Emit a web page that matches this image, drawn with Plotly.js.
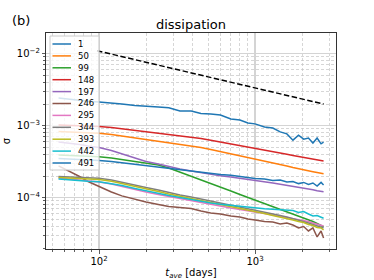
<!DOCTYPE html>
<html>
<head>
<meta charset="utf-8">
<script src="https://cdn.plot.ly/plotly-3.0.1.min.js"></script>
<style>html,body{margin:0;padding:0;background:#fff;}#chart{width:374px;height:280px;}</style>
</head>
<body>
<div id="chart"></div>
<script>
// ---- data ----
const tAve = [55, 65, 75, 85, 100, 120, 140, 170, 200, 240, 280, 330, 390, 450, 520, 600, 700, 800, 900, 1000, 1150, 1300, 1450, 1600, 1750, 1900, 2050, 2200, 2350, 2500, 2650, 2750];
const seriesLabels = ['1', '50', '99', '148', '197', '246', '295', '344', '393', '442', '491'];
const s1   = [2.43e-3, 2.31e-3, 2.24e-3, 2.18e-3, 2.13e-3, 2.07e-3, 2.0e-3, 1.91e-3, 1.85e-3, 1.82e-3, 1.78e-3, 1.60e-3, 1.60e-3, 1.48e-3, 1.45e-3, 1.41e-3, 1.24e-3, 1.2e-3, 1.09e-3, 1.06e-3, 9.6e-4, 9.3e-4, 8.2e-4, 7.7e-4, 6.3e-4, 7.4e-4, 6.5e-4, 6.75e-4, 5.75e-4, 6.75e-4, 5.6e-4, 5.9e-4];
const s50  = [8.31e-4, 8.23e-4, 8.12e-4, 8.02e-4, 7.87e-4, 7.55e-4, 7.19e-4, 6.75e-4, 6.43e-4, 6.13e-4, 5.84e-4, 5.57e-4, 5.31e-4, 4.98e-4, 4.67e-4, 4.38e-4, 4.05e-4, 3.80e-4, 3.62e-4, 3.45e-4, 3.24e-4, 3.03e-4, 2.89e-4, 2.76e-4, 2.63e-4, 2.55e-4, 2.45e-4, 2.37e-4, 2.30e-4, 2.24e-4, 2.18e-4, 2.15e-4];
const s99  = [3.92e-4, 3.88e-4, 3.83e-4, 3.80e-4, 3.71e-4, 3.56e-4, 3.39e-4, 3.18e-4, 3.03e-4, 2.85e-4, 2.59e-4, 2.28e-4, 2.0e-4, 1.76e-4, 1.57e-4, 1.41e-4, 1.24e-4, 1.11e-4, 1.01e-4, 9.29e-5, 8.31e-5, 7.55e-5, 6.97e-5, 6.43e-5, 6.04e-5, 5.66e-5, 5.31e-5, 4.98e-5, 4.67e-5, 4.38e-5, 4.11e-5, 3.95e-5];
const s148 = [1.02e-3, 1.01e-3, 1.0e-3, 9.9e-4, 9.75e-4, 9.44e-4, 9.06e-4, 8.66e-4, 8.36e-4, 7.97e-4, 7.62e-4, 7.31e-4, 6.97e-4, 6.64e-4, 6.27e-4, 5.94e-4, 5.57e-4, 5.31e-4, 5.06e-4, 4.82e-4, 4.57e-4, 4.36e-4, 4.18e-4, 4.01e-4, 3.86e-4, 3.74e-4, 3.62e-4, 3.52e-4, 3.42e-4, 3.34e-4, 3.27e-4, 3.24e-4];
const s197 = [5.94e-4, 5.71e-4, 5.48e-4, 5.23e-4, 4.98e-4, 4.52e-4, 4.05e-4, 3.50e-4, 3.18e-4, 2.94e-4, 2.71e-4, 2.50e-4, 2.35e-4, 2.22e-4, 2.11e-4, 2.01e-4, 1.94e-4, 1.87e-4, 1.80e-4, 1.75e-4, 1.66e-4, 1.60e-4, 1.54e-4, 1.49e-4, 1.44e-4, 1.40e-4, 1.36e-4, 1.32e-4, 1.29e-4, 1.25e-4, 1.23e-4, 1.21e-4];
const s246 = [2.76e-4, 2.31e-4, 1.97e-4, 1.68e-4, 1.43e-4, 1.20e-4, 1.06e-4, 9.44e-5, 8.71e-5, 8.05e-5, 7.55e-5, 7.31e-5, 7.08e-5, 6.53e-5, 6.13e-5, 5.94e-5, 5.57e-5, 5.40e-5, 5.06e-5, 4.90e-5, 4.67e-5, 4.60e-5, 4.31e-5, 4.45e-5, 4.18e-5, 3.80e-5, 3.98e-5, 3.45e-5, 3.80e-5, 2.85e-5, 3.45e-5, 2.75e-5];
const s295 = [1.88e-4, 1.82e-4, 1.76e-4, 1.71e-4, 1.65e-4, 1.55e-4, 1.43e-4, 1.30e-4, 1.20e-4, 1.11e-4, 1.04e-4, 9.75e-5, 9.14e-5, 8.58e-5, 8.09e-5, 7.67e-5, 7.19e-5, 6.86e-5, 6.53e-5, 6.33e-5, 6.04e-5, 5.75e-5, 5.57e-5, 5.31e-5, 5.14e-5, 4.98e-5, 4.75e-5, 4.67e-5, 4.45e-5, 4.31e-5, 4.18e-5, 4.05e-5];
const s344 = [1.97e-4, 1.94e-4, 1.91e-4, 1.88e-4, 1.86e-4, 1.76e-4, 1.65e-4, 1.50e-4, 1.39e-4, 1.28e-4, 1.18e-4, 1.09e-4, 1.02e-4, 9.59e-5, 9.0e-5, 8.44e-5, 7.92e-5, 7.43e-5, 7.08e-5, 6.75e-5, 6.33e-5, 5.94e-5, 5.66e-5, 5.40e-5, 5.14e-5, 4.90e-5, 4.67e-5, 4.45e-5, 4.25e-5, 4.05e-5, 3.92e-5, 3.80e-5];
const s393 = [1.91e-4, 1.88e-4, 1.85e-4, 1.82e-4, 1.79e-4, 1.69e-4, 1.58e-4, 1.43e-4, 1.32e-4, 1.22e-4, 1.125e-4, 1.04e-4, 9.75e-5, 9.14e-5, 8.58e-5, 8.05e-5, 7.55e-5, 7.13e-5, 6.75e-5, 6.43e-5, 6.04e-5, 5.66e-5, 5.40e-5, 5.14e-5, 4.90e-5, 4.67e-5, 4.53e-5, 4.25e-5, 4.11e-5, 3.86e-5, 3.80e-5, 3.56e-5];
const s442 = [1.82e-4, 1.76e-4, 1.72e-4, 1.69e-4, 1.67e-4, 1.57e-4, 1.48e-4, 1.34e-4, 1.24e-4, 1.14e-4, 1.07e-4, 1.01e-4, 9.44e-5, 8.85e-5, 8.44e-5, 8.09e-5, 7.79e-5, 7.55e-5, 7.36e-5, 7.19e-5, 7.04e-5, 6.90e-5, 6.81e-5, 6.64e-5, 6.64e-5, 6.23e-5, 6.43e-5, 5.94e-5, 5.57e-5, 5.66e-5, 5.31e-5, 5.18e-5];
const s491 = [3.50e-4, 3.45e-4, 3.39e-4, 3.34e-4, 3.29e-4, 3.18e-4, 3.05e-4, 2.91e-4, 2.80e-4, 2.69e-4, 2.59e-4, 2.47e-4, 2.35e-4, 2.24e-4, 2.17e-4, 2.10e-4, 2.05e-4, 1.97e-4, 1.91e-4, 1.85e-4, 1.82e-4, 1.73e-4, 1.76e-4, 1.65e-4, 1.68e-4, 1.57e-4, 1.63e-4, 1.53e-4, 1.60e-4, 1.45e-4, 1.63e-4, 1.50e-4];
const refT = [97, 2750];
const refSigma = [1.1e-2, 2.0e-3];

// ---- styles ----
const allSeries = [s1, s50, s99, s148, s197, s246, s295, s344, s393, s442, s491];
const colors = ['#1f77b4', '#ff7f0e', '#2ca02c', '#d62728', '#9467bd', '#8c564b', '#e377c2', '#7f7f7f', '#bcbd22', '#17becf', '#1f77b4'];
const FONT = 'DejaVu Sans, sans-serif';

const traces = allSeries.map((ys, i) => ({
  x: tAve, y: ys, type: 'scatter', mode: 'lines', name: seriesLabels[i],
  line: {color: colors[i], width: 1.5}, showlegend: false, hoverinfo: 'skip'
}));
traces.push({x: refT, y: refSigma, type: 'scatter', mode: 'lines', showlegend: false,
  line: {color: '#000', width: 1.5, dash: '5.5px,2.5px'}, hoverinfo: 'skip'});

// plot area in pixels
const L = 46, R = 336, T = 33, B = 249;
const px = v => (v - L) / (R - L);
const py = v => (B - v) / (B - T);

const shapes = [{type: 'rect', xref: 'paper', yref: 'paper', x0: px(50), x1: px(99), y0: py(170), y1: py(36),
  fillcolor: 'rgba(255,255,255,0.8)', line: {color: '#cccccc', width: 1}, layer: 'above'}];
const annotations = [{xref: 'paper', yref: 'paper', x: px(21), y: py(21), text: '(b)', showarrow: false,
  xanchor: 'center', yanchor: 'middle', font: {family: FONT, size: 13, color: '#000'}}];
seriesLabels.forEach((lab, i) => {
  const yy = 44 + i * 11.9;
  shapes.push({type: 'line', xref: 'paper', yref: 'paper', x0: px(52.5), x1: px(71), y0: py(yy), y1: py(yy),
    line: {color: colors[i], width: 1.5}, layer: 'above'});
  annotations.push({xref: 'paper', yref: 'paper', x: px(76), y: py(yy), text: lab, showarrow: false,
    xanchor: 'left', yanchor: 'middle', font: {family: FONT, size: 8.5, color: '#000'}});
});

const axisCommon = {
  type: 'log', showline: true, mirror: true, linecolor: '#333', linewidth: 1,
  ticks: 'outside', ticklen: 3.5, tickwidth: 0.8, tickcolor: '#333',
  showgrid: true, gridcolor: '#d4d4d4', gridwidth: 1.2, zeroline: false,
  exponentformat: 'power', dtick: 1,
  tickfont: {family: FONT, size: 8, color: '#000'},
  minor: {showgrid: true, gridcolor: '#c4c4c4', gridwidth: 0.7, griddash: '3px,2px',
          ticks: 'outside', ticklen: 2, tickcolor: '#333', dtick: 'D1'}
};

const layout = {
  width: 374, height: 280,
  margin: {l: L, r: 374 - R, t: T, b: 280 - B, pad: 0},
  paper_bgcolor: '#fff', plot_bgcolor: '#fff',
  font: {family: FONT, color: '#000'},
  title: {text: 'dissipation', x: 0.5, xref: 'paper', y: 1 - 24.5 / 280, yref: 'container',
    yanchor: 'middle', font: {family: FONT, size: 13, color: '#000'}},
  xaxis: Object.assign({}, axisCommon, {
    range: [1.660, 3.519],
    title: {text: '<i>t</i><sub><i>ave</i></sub> [days]', font: {family: FONT, size: 10, color: '#000'}, standoff: 6}
  }),
  yaxis: Object.assign({}, axisCommon, {
    range: [-4.7125, -1.7125],
    title: {text: 'σ', font: {family: FONT, size: 10, color: '#000'}, standoff: 4}
  }),
  shapes: shapes, annotations: annotations, showlegend: false
};

Plotly.newPlot('chart', traces, layout, {staticPlot: true, displayModeBar: false});
</script>
</body>
</html>
